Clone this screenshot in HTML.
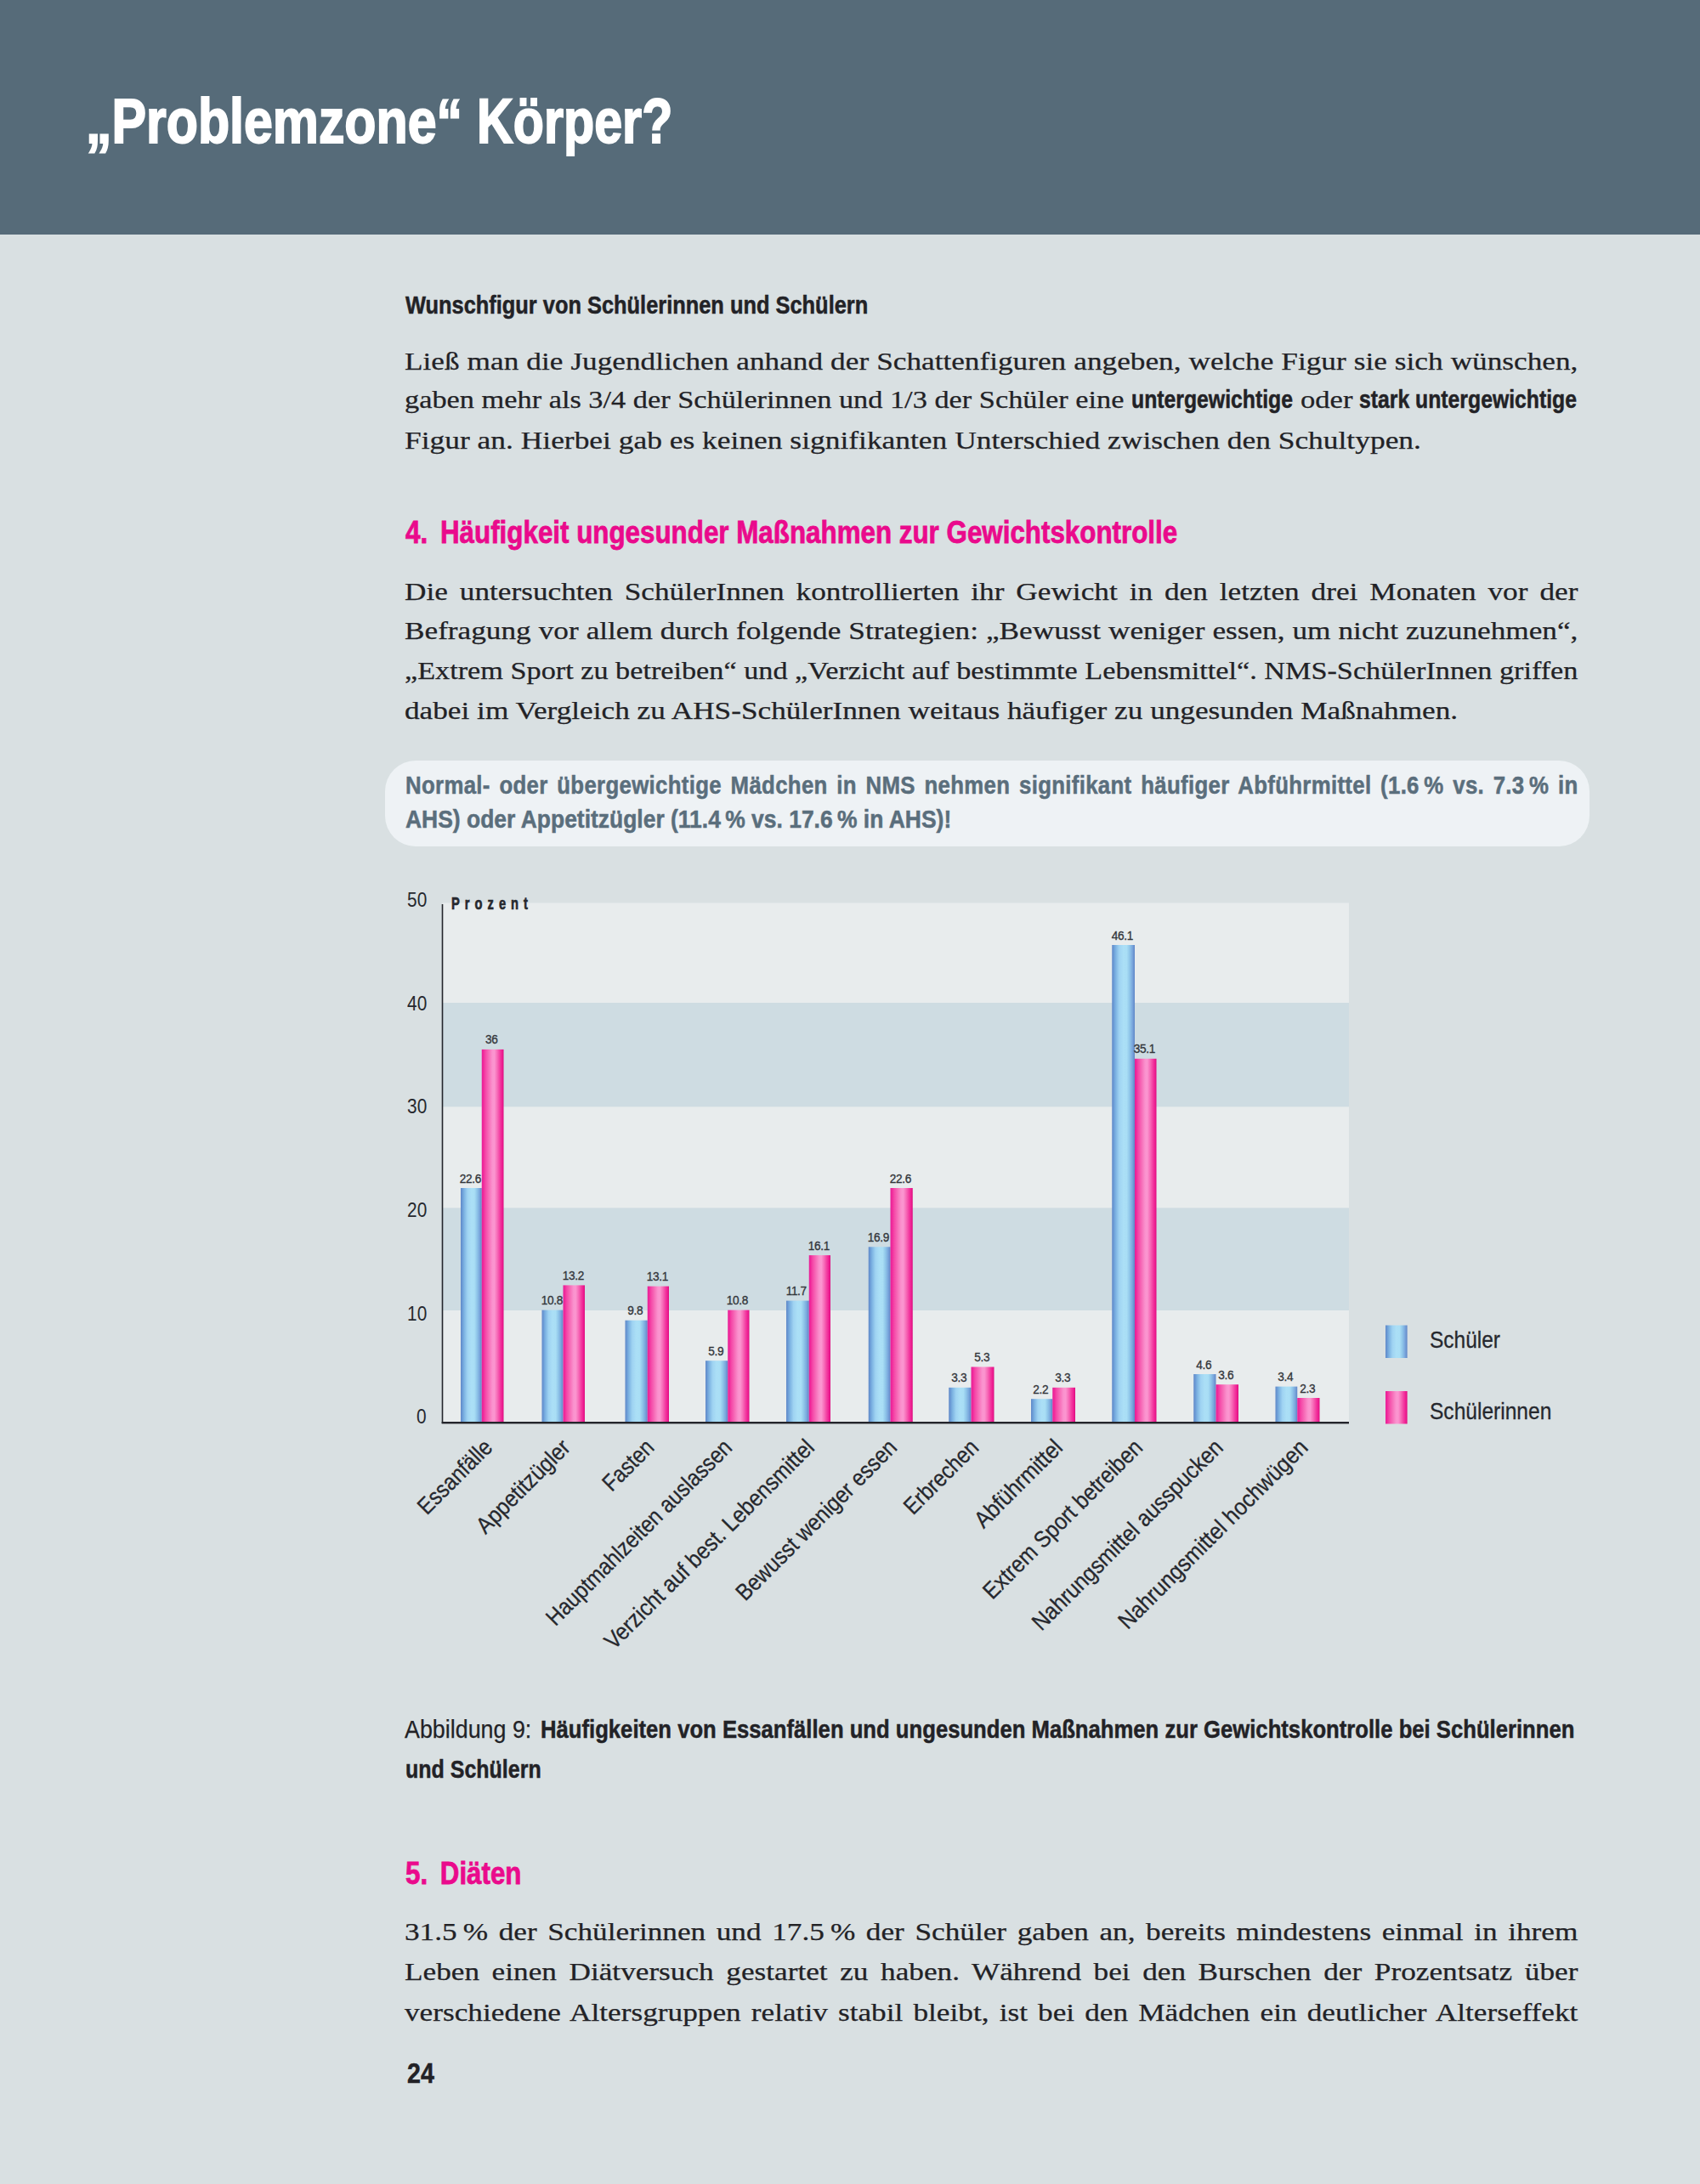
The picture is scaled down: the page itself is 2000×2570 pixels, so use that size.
<!DOCTYPE html>
<html lang="de"><head><meta charset="utf-8"><title>Problemzone Körper?</title>
<style>
html,body{margin:0;padding:0;}
body{width:2000px;height:2570px;background:#d9e0e2;position:relative;overflow:hidden;font-family:"Liberation Sans",sans-serif;}
.t{position:absolute;white-space:nowrap;margin:0;padding:0;}
.hdr{position:absolute;left:0;top:0;width:2000px;height:275.5px;background:#566b79;}
.callout{position:absolute;left:452.5px;top:895px;width:1417.5px;height:101px;border-radius:36px;background:#eef2f5;}
</style></head><body>
<div class="hdr"></div>
<div class="callout"></div>
<svg width="2000" height="2570" viewBox="0 0 2000 2570" style="position:absolute;left:0;top:0">
<defs>
<linearGradient id="gb" x1="0" x2="1" y1="0" y2="0"><stop offset="0" stop-color="#5f88c8"/><stop offset="0.08" stop-color="#6c9cd6"/><stop offset="0.16" stop-color="#7cb2e2"/><stop offset="0.32" stop-color="#9fd3f2"/><stop offset="0.5" stop-color="#abdff6"/><stop offset="0.65" stop-color="#a9def5"/><stop offset="0.78" stop-color="#8fc5e9"/><stop offset="0.9" stop-color="#79a5dc"/><stop offset="1" stop-color="#5f86c6"/></linearGradient>
<linearGradient id="gp" x1="0" x2="1" y1="0" y2="0"><stop offset="0" stop-color="#e6209a"/><stop offset="0.07" stop-color="#f0289a"/><stop offset="0.17" stop-color="#f548a8"/><stop offset="0.34" stop-color="#f772bb"/><stop offset="0.48" stop-color="#fa92ce"/><stop offset="0.58" stop-color="#fb96d0"/><stop offset="0.71" stop-color="#f76cb8"/><stop offset="0.83" stop-color="#f33ea2"/><stop offset="0.94" stop-color="#ee1a90"/><stop offset="1" stop-color="#d8107e"/></linearGradient>
</defs>
<rect x="521" y="1062.5" width="1066" height="117.5" fill="#e8eced"/>
<rect x="521" y="1180" width="1066" height="122.5" fill="#cedce2"/>
<rect x="521" y="1302.5" width="1066" height="119.0" fill="#e8eced"/>
<rect x="521" y="1421.5" width="1066" height="120.5" fill="#cedce2"/>
<rect x="521" y="1542" width="1066" height="131" fill="#e8eced"/>
<rect x="542.00" y="1398.0" width="24.75" height="275.0" fill="url(#gb)"/>
<rect x="566.75" y="1234.9" width="25.75" height="438.1" fill="url(#gp)"/>
<rect x="637.50" y="1541.6" width="25.00" height="131.4" fill="url(#gb)"/>
<rect x="662.50" y="1512.4" width="25.50" height="160.6" fill="url(#gp)"/>
<rect x="735.50" y="1553.7" width="26.25" height="119.3" fill="url(#gb)"/>
<rect x="761.75" y="1513.6" width="25.25" height="159.4" fill="url(#gp)"/>
<rect x="830.00" y="1601.2" width="26.25" height="71.8" fill="url(#gb)"/>
<rect x="856.25" y="1541.6" width="25.25" height="131.4" fill="url(#gp)"/>
<rect x="925.00" y="1530.6" width="26.75" height="142.4" fill="url(#gb)"/>
<rect x="951.75" y="1477.1" width="25.25" height="195.9" fill="url(#gp)"/>
<rect x="1021.75" y="1467.3" width="25.75" height="205.7" fill="url(#gb)"/>
<rect x="1047.50" y="1398.0" width="26.25" height="275.0" fill="url(#gp)"/>
<rect x="1116.25" y="1632.8" width="26.25" height="40.2" fill="url(#gb)"/>
<rect x="1142.50" y="1608.5" width="27.00" height="64.5" fill="url(#gp)"/>
<rect x="1213.00" y="1646.2" width="25.25" height="26.8" fill="url(#gb)"/>
<rect x="1238.25" y="1632.8" width="26.75" height="40.2" fill="url(#gp)"/>
<rect x="1308.25" y="1112.0" width="26.75" height="561.0" fill="url(#gb)"/>
<rect x="1335.00" y="1245.8" width="25.50" height="427.2" fill="url(#gp)"/>
<rect x="1404.25" y="1617.0" width="26.25" height="56.0" fill="url(#gb)"/>
<rect x="1430.50" y="1629.2" width="26.50" height="43.8" fill="url(#gp)"/>
<rect x="1500.50" y="1631.6" width="25.75" height="41.4" fill="url(#gb)"/>
<rect x="1526.25" y="1645.0" width="26.25" height="28.0" fill="url(#gp)"/>
<rect x="519.7" y="1064" width="1.6" height="611" fill="#23252b"/>
<rect x="519.7" y="1673" width="1067.3" height="2.4" fill="#23252b"/>
<rect x="1630" y="1559.5" width="25.6" height="38.5" fill="url(#gb)"/>
<rect x="1630" y="1637" width="25.6" height="38.5" fill="url(#gp)"/>
</svg>
<div class="t" style="left:101.00px;top:101.00px;line-height:83px;font-family:'Liberation Sans', sans-serif;font-weight:bold;font-size:74px;letter-spacing:0px;color:#ffffff;-webkit-text-stroke:2px #ffffff;transform-origin:0 67px;transform:scale(0.8224,1);">„Problemzone“</div>
<div class="t" style="left:560.70px;top:101.00px;line-height:83px;font-family:'Liberation Sans', sans-serif;font-weight:bold;font-size:74px;letter-spacing:0px;color:#ffffff;-webkit-text-stroke:2px #ffffff;transform-origin:0 67px;transform:scale(0.8002,1);">Körper?</div>
<div class="t" style="left:476.80px;top:342.75px;line-height:32px;font-family:'Liberation Sans', sans-serif;font-weight:bold;font-size:29px;letter-spacing:0px;color:#222226;-webkit-text-stroke:0.5px #222226;transform-origin:0 26px;transform:scale(0.8758,1);">Wunschfigur von Schülerinnen und Schülern</div>
<div class="t" style="left:475.60px;top:408.60px;line-height:32px;font-family:'Liberation Serif', serif;font-weight:normal;font-size:29px;letter-spacing:0px;color:#222226;-webkit-text-stroke:0.25px #222226;word-spacing:0.188px;transform-origin:0 26px;transform:scale(1.2150,1);">Ließ man die Jugendlichen anhand der Schattenfiguren angeben, welche Figur sie sich wünschen,</div>
<div class="t" style="left:475.60px;top:454.20px;line-height:32px;font-family:'Liberation Serif', serif;font-weight:normal;font-size:29px;letter-spacing:0px;color:#222226;-webkit-text-stroke:0.25px #222226;transform-origin:0 26px;transform:scale(1.1836,1);">gaben mehr als 3/4 der Schülerinnen und 1/3 der Schüler eine</div>
<div class="t" style="left:1331.00px;top:454.30px;line-height:32px;font-family:'Liberation Sans', sans-serif;font-weight:bold;font-size:29px;letter-spacing:0px;color:#222226;-webkit-text-stroke:0.5px #222226;transform-origin:0 26px;transform:scale(0.8545,1);">untergewichtige</div>
<div class="t" style="left:1530.00px;top:454.20px;line-height:32px;font-family:'Liberation Serif', serif;font-weight:normal;font-size:29px;letter-spacing:0px;color:#222226;-webkit-text-stroke:0.25px #222226;transform-origin:0 26px;transform:scale(1.1935,1);">oder</div>
<div class="t" style="left:1599.00px;top:454.30px;line-height:32px;font-family:'Liberation Sans', sans-serif;font-weight:bold;font-size:29px;letter-spacing:0px;color:#222226;-webkit-text-stroke:0.5px #222226;transform-origin:0 26px;transform:scale(0.8540,1);">stark untergewichtige</div>
<div class="t" style="left:475.60px;top:501.90px;line-height:32px;font-family:'Liberation Serif', serif;font-weight:normal;font-size:29px;letter-spacing:0px;color:#222226;-webkit-text-stroke:0.25px #222226;transform-origin:0 26px;transform:scale(1.2212,1);">Figur an. Hierbei gab es keinen signifikanten Unterschied zwischen den Schultypen.</div>
<div class="t" style="left:476.80px;top:606.40px;line-height:41px;font-family:'Liberation Sans', sans-serif;font-weight:bold;font-size:36px;letter-spacing:0px;color:#ea0a8c;-webkit-text-stroke:0.8px #ea0a8c;transform-origin:0 33px;transform:scale(0.8706,1);">4.<i style="margin-left:7px"></i> Häufigkeit ungesunder Maßnahmen zur Gewichtskontrolle</div>
<div class="t" style="left:475.60px;top:679.60px;line-height:32px;font-family:'Liberation Serif', serif;font-weight:normal;font-size:29px;letter-spacing:0px;color:#222226;-webkit-text-stroke:0.25px #222226;word-spacing:4.215px;transform-origin:0 26px;transform:scale(1.2150,1);">Die untersuchten SchülerInnen kontrollierten ihr Gewicht in den letzten drei Monaten vor der</div>
<div class="t" style="left:475.60px;top:726.10px;line-height:32px;font-family:'Liberation Serif', serif;font-weight:normal;font-size:29px;letter-spacing:0px;color:#222226;-webkit-text-stroke:0.25px #222226;word-spacing:0.133px;transform-origin:0 26px;transform:scale(1.2150,1);">Befragung vor allem durch folgende Strategien: „Bewusst weniger essen, um nicht zuzunehmen“,</div>
<div class="t" style="left:475.60px;top:772.60px;line-height:32px;font-family:'Liberation Serif', serif;font-weight:normal;font-size:29px;letter-spacing:0px;color:#222226;-webkit-text-stroke:0.25px #222226;transform-origin:0 26px;transform:scale(1.1803,1);">„Extrem Sport zu betreiben“ und „Verzicht auf bestimmte Lebensmittel“. NMS-SchülerInnen griffen</div>
<div class="t" style="left:475.60px;top:819.60px;line-height:32px;font-family:'Liberation Serif', serif;font-weight:normal;font-size:29px;letter-spacing:0px;color:#222226;-webkit-text-stroke:0.25px #222226;transform-origin:0 26px;transform:scale(1.2147,1);">dabei im Vergleich zu AHS-SchülerInnen weitaus häufiger zu ungesunden Maßnahmen.</div>
<div class="t" style="left:476.80px;top:908.00px;line-height:32px;font-family:'Liberation Sans', sans-serif;font-weight:bold;font-size:29px;letter-spacing:0.35px;color:#5a6e7c;-webkit-text-stroke:0.5px #5a6e7c;word-spacing:3.596px;transform-origin:0 26px;transform:scale(0.8900,1);">Normal- oder übergewichtige Mädchen in NMS nehmen signifikant häufiger Abführmittel (1.6 % vs. 7.3 % in</div>
<div class="t" style="left:476.80px;top:947.75px;line-height:32px;font-family:'Liberation Sans', sans-serif;font-weight:bold;font-size:29px;letter-spacing:0px;color:#5a6e7c;-webkit-text-stroke:0.5px #5a6e7c;transform-origin:0 26px;transform:scale(0.9122,1);">AHS) oder Appetitzügler (11.4 % vs. 17.6 % in AHS)!</div>
<div class="t" style="left:476.20px;top:2018.00px;line-height:33px;font-family:'Liberation Sans', sans-serif;font-weight:normal;font-size:30px;letter-spacing:0px;color:#222226;-webkit-text-stroke:0.25px #222226;transform-origin:0 27px;transform:scale(0.8950,1);">Abbildung 9:</div>
<div class="t" style="left:635.60px;top:2018.00px;line-height:33px;font-family:'Liberation Sans', sans-serif;font-weight:bold;font-size:30px;letter-spacing:0px;color:#222226;-webkit-text-stroke:0.5px #222226;transform-origin:0 27px;transform:scale(0.8555,1);">Häufigkeiten von Essanfällen und ungesunden Maßnahmen zur Gewichtskontrolle bei Schülerinnen</div>
<div class="t" style="left:476.80px;top:2064.80px;line-height:33px;font-family:'Liberation Sans', sans-serif;font-weight:bold;font-size:30px;letter-spacing:0px;color:#222226;-webkit-text-stroke:0.5px #222226;transform-origin:0 27px;transform:scale(0.8331,1);">und Schülern</div>
<div class="t" style="left:476.80px;top:2184.40px;line-height:41px;font-family:'Liberation Sans', sans-serif;font-weight:bold;font-size:36px;letter-spacing:0px;color:#ea0a8c;-webkit-text-stroke:0.8px #ea0a8c;transform-origin:0 33px;transform:scale(0.8684,1);">5.<i style="margin-left:7px"></i> Diäten</div>
<div class="t" style="left:475.60px;top:2256.60px;line-height:32px;font-family:'Liberation Serif', serif;font-weight:normal;font-size:29px;letter-spacing:0px;color:#222226;-webkit-text-stroke:0.25px #222226;word-spacing:3.117px;transform-origin:0 26px;transform:scale(1.2150,1);">31.5 % der Schülerinnen und 17.5 % der Schüler gaben an, bereits mindestens einmal in ihrem</div>
<div class="t" style="left:475.60px;top:2304.40px;line-height:32px;font-family:'Liberation Serif', serif;font-weight:normal;font-size:29px;letter-spacing:0px;color:#222226;-webkit-text-stroke:0.25px #222226;word-spacing:4.738px;transform-origin:0 26px;transform:scale(1.2150,1);">Leben einen Diätversuch gestartet zu haben. Während bei den Burschen der Prozentsatz über</div>
<div class="t" style="left:475.60px;top:2351.60px;line-height:32px;font-family:'Liberation Serif', serif;font-weight:normal;font-size:29px;letter-spacing:0px;color:#222226;-webkit-text-stroke:0.25px #222226;word-spacing:2.745px;transform-origin:0 26px;transform:scale(1.2150,1);">verschiedene Altersgruppen relativ stabil bleibt, ist bei den Mädchen ein deutlicher Alterseffekt</div>
<div class="t" style="left:479.40px;top:2420.40px;line-height:38px;font-family:'Liberation Sans', sans-serif;font-weight:bold;font-size:34px;letter-spacing:0px;color:#222226;-webkit-text-stroke:0.5px #222226;transform-origin:0 31px;transform:scale(0.8406,1);">24</div>
<div class="t" style="left:474.73px;top:1045.00px;line-height:27px;font-family:'Liberation Sans', sans-serif;font-weight:normal;font-size:24.5px;letter-spacing:0px;color:#26282e;transform-origin:27.27px 22px;transform:scale(0.8500,1);">50</div>
<div class="t" style="left:474.73px;top:1166.70px;line-height:27px;font-family:'Liberation Sans', sans-serif;font-weight:normal;font-size:24.5px;letter-spacing:0px;color:#26282e;transform-origin:27.27px 22px;transform:scale(0.8500,1);">40</div>
<div class="t" style="left:474.73px;top:1288.30px;line-height:27px;font-family:'Liberation Sans', sans-serif;font-weight:normal;font-size:24.5px;letter-spacing:0px;color:#26282e;transform-origin:27.27px 22px;transform:scale(0.8500,1);">30</div>
<div class="t" style="left:474.73px;top:1410.00px;line-height:27px;font-family:'Liberation Sans', sans-serif;font-weight:normal;font-size:24.5px;letter-spacing:0px;color:#26282e;transform-origin:27.27px 22px;transform:scale(0.8500,1);">20</div>
<div class="t" style="left:474.73px;top:1531.60px;line-height:27px;font-family:'Liberation Sans', sans-serif;font-weight:normal;font-size:24.5px;letter-spacing:0px;color:#26282e;transform-origin:27.27px 22px;transform:scale(0.8500,1);">10</div>
<div class="t" style="left:488.36px;top:1653.30px;line-height:27px;font-family:'Liberation Sans', sans-serif;font-weight:normal;font-size:24.5px;letter-spacing:0px;color:#26282e;transform-origin:13.64px 22px;transform:scale(0.8500,1);">0</div>
<div class="t" style="left:530.60px;top:1050.60px;line-height:23px;font-family:'Liberation Sans', sans-serif;font-weight:bold;font-size:21px;letter-spacing:8.6px;color:#26282e;-webkit-text-stroke:0.7px #26282e;transform-origin:0 19px;transform:scale(0.6997,1);">Prozent</div>
<div class="t" style="left:538.91px;top:1377.50px;line-height:17px;font-family:'Liberation Sans', sans-serif;font-weight:normal;font-size:15.5px;letter-spacing:-0.4px;color:#32353a;-webkit-text-stroke:0.35px #32353a;transform-origin:14.49px 14px;transform:scale(0.8800,1);">22.6</div>
<div class="t" style="left:570.17px;top:1214.40px;line-height:17px;font-family:'Liberation Sans', sans-serif;font-weight:normal;font-size:15.5px;letter-spacing:-0.4px;color:#32353a;-webkit-text-stroke:0.35px #32353a;transform-origin:8.43px 14px;transform:scale(0.8800,1);">36</div>
<div class="t" style="left:634.51px;top:1521.10px;line-height:17px;font-family:'Liberation Sans', sans-serif;font-weight:normal;font-size:15.5px;letter-spacing:-0.4px;color:#32353a;-webkit-text-stroke:0.35px #32353a;transform-origin:14.49px 14px;transform:scale(0.8800,1);">10.8</div>
<div class="t" style="left:659.71px;top:1491.90px;line-height:17px;font-family:'Liberation Sans', sans-serif;font-weight:normal;font-size:15.5px;letter-spacing:-0.4px;color:#32353a;-webkit-text-stroke:0.35px #32353a;transform-origin:14.49px 14px;transform:scale(0.8800,1);">13.2</div>
<div class="t" style="left:737.22px;top:1533.20px;line-height:17px;font-family:'Liberation Sans', sans-serif;font-weight:normal;font-size:15.5px;letter-spacing:-0.4px;color:#32353a;-webkit-text-stroke:0.35px #32353a;transform-origin:10.38px 14px;transform:scale(0.8800,1);">9.8</div>
<div class="t" style="left:758.91px;top:1493.10px;line-height:17px;font-family:'Liberation Sans', sans-serif;font-weight:normal;font-size:15.5px;letter-spacing:-0.4px;color:#32353a;-webkit-text-stroke:0.35px #32353a;transform-origin:14.49px 14px;transform:scale(0.8800,1);">13.1</div>
<div class="t" style="left:831.72px;top:1580.70px;line-height:17px;font-family:'Liberation Sans', sans-serif;font-weight:normal;font-size:15.5px;letter-spacing:-0.4px;color:#32353a;-webkit-text-stroke:0.35px #32353a;transform-origin:10.38px 14px;transform:scale(0.8800,1);">5.9</div>
<div class="t" style="left:853.41px;top:1521.10px;line-height:17px;font-family:'Liberation Sans', sans-serif;font-weight:normal;font-size:15.5px;letter-spacing:-0.4px;color:#32353a;-webkit-text-stroke:0.35px #32353a;transform-origin:14.49px 14px;transform:scale(0.8800,1);">10.8</div>
<div class="t" style="left:923.49px;top:1510.10px;line-height:17px;font-family:'Liberation Sans', sans-serif;font-weight:normal;font-size:15.5px;letter-spacing:-0.4px;color:#32353a;-webkit-text-stroke:0.35px #32353a;transform-origin:13.91px 14px;transform:scale(0.8800,1);">11.7</div>
<div class="t" style="left:948.91px;top:1456.60px;line-height:17px;font-family:'Liberation Sans', sans-serif;font-weight:normal;font-size:15.5px;letter-spacing:-0.4px;color:#32353a;-webkit-text-stroke:0.35px #32353a;transform-origin:14.49px 14px;transform:scale(0.8800,1);">16.1</div>
<div class="t" style="left:1019.11px;top:1446.80px;line-height:17px;font-family:'Liberation Sans', sans-serif;font-weight:normal;font-size:15.5px;letter-spacing:-0.4px;color:#32353a;-webkit-text-stroke:0.35px #32353a;transform-origin:14.49px 14px;transform:scale(0.8800,1);">16.9</div>
<div class="t" style="left:1045.11px;top:1377.50px;line-height:17px;font-family:'Liberation Sans', sans-serif;font-weight:normal;font-size:15.5px;letter-spacing:-0.4px;color:#32353a;-webkit-text-stroke:0.35px #32353a;transform-origin:14.49px 14px;transform:scale(0.8800,1);">22.6</div>
<div class="t" style="left:1118.02px;top:1612.30px;line-height:17px;font-family:'Liberation Sans', sans-serif;font-weight:normal;font-size:15.5px;letter-spacing:-0.4px;color:#32353a;-webkit-text-stroke:0.35px #32353a;transform-origin:10.38px 14px;transform:scale(0.8800,1);">3.3</div>
<div class="t" style="left:1144.62px;top:1588.00px;line-height:17px;font-family:'Liberation Sans', sans-serif;font-weight:normal;font-size:15.5px;letter-spacing:-0.4px;color:#32353a;-webkit-text-stroke:0.35px #32353a;transform-origin:10.38px 14px;transform:scale(0.8800,1);">5.3</div>
<div class="t" style="left:1214.22px;top:1625.70px;line-height:17px;font-family:'Liberation Sans', sans-serif;font-weight:normal;font-size:15.5px;letter-spacing:-0.4px;color:#32353a;-webkit-text-stroke:0.35px #32353a;transform-origin:10.38px 14px;transform:scale(0.8800,1);">2.2</div>
<div class="t" style="left:1240.22px;top:1612.30px;line-height:17px;font-family:'Liberation Sans', sans-serif;font-weight:normal;font-size:15.5px;letter-spacing:-0.4px;color:#32353a;-webkit-text-stroke:0.35px #32353a;transform-origin:10.38px 14px;transform:scale(0.8800,1);">3.3</div>
<div class="t" style="left:1306.11px;top:1091.50px;line-height:17px;font-family:'Liberation Sans', sans-serif;font-weight:normal;font-size:15.5px;letter-spacing:-0.4px;color:#32353a;-webkit-text-stroke:0.35px #32353a;transform-origin:14.49px 14px;transform:scale(0.8800,1);">46.1</div>
<div class="t" style="left:1332.31px;top:1225.30px;line-height:17px;font-family:'Liberation Sans', sans-serif;font-weight:normal;font-size:15.5px;letter-spacing:-0.4px;color:#32353a;-webkit-text-stroke:0.35px #32353a;transform-origin:14.49px 14px;transform:scale(0.8800,1);">35.1</div>
<div class="t" style="left:1406.02px;top:1596.50px;line-height:17px;font-family:'Liberation Sans', sans-serif;font-weight:normal;font-size:15.5px;letter-spacing:-0.4px;color:#32353a;-webkit-text-stroke:0.35px #32353a;transform-origin:10.38px 14px;transform:scale(0.8800,1);">4.6</div>
<div class="t" style="left:1432.42px;top:1608.70px;line-height:17px;font-family:'Liberation Sans', sans-serif;font-weight:normal;font-size:15.5px;letter-spacing:-0.4px;color:#32353a;-webkit-text-stroke:0.35px #32353a;transform-origin:10.38px 14px;transform:scale(0.8800,1);">3.6</div>
<div class="t" style="left:1502.02px;top:1611.10px;line-height:17px;font-family:'Liberation Sans', sans-serif;font-weight:normal;font-size:15.5px;letter-spacing:-0.4px;color:#32353a;-webkit-text-stroke:0.35px #32353a;transform-origin:10.38px 14px;transform:scale(0.8800,1);">3.4</div>
<div class="t" style="left:1528.02px;top:1624.50px;line-height:17px;font-family:'Liberation Sans', sans-serif;font-weight:normal;font-size:15.5px;letter-spacing:-0.4px;color:#32353a;-webkit-text-stroke:0.35px #32353a;transform-origin:10.38px 14px;transform:scale(0.8800,1);">2.3</div>
<div class="t" style="left:454.11px;top:1679.50px;line-height:31px;font-family:'Liberation Sans', sans-serif;font-weight:normal;font-size:27.5px;letter-spacing:0px;color:#26282e;-webkit-text-stroke:0.3px #26282e;transform-origin:126.89px 25px;transform:rotate(-45deg) scale(0.8767,1);">Essanfälle</div>
<div class="t" style="left:512.48px;top:1679.50px;line-height:31px;font-family:'Liberation Sans', sans-serif;font-weight:normal;font-size:27.5px;letter-spacing:0px;color:#26282e;-webkit-text-stroke:0.3px #26282e;transform-origin:160.52px 25px;transform:rotate(-45deg) scale(0.8914,1);">Appetitzügler</div>
<div class="t" style="left:686.92px;top:1679.50px;line-height:31px;font-family:'Liberation Sans', sans-serif;font-weight:normal;font-size:27.5px;letter-spacing:0px;color:#26282e;-webkit-text-stroke:0.3px #26282e;transform-origin:84.08px 25px;transform:rotate(-45deg) scale(0.8619,1);">Fasten</div>
<div class="t" style="left:525.16px;top:1679.50px;line-height:31px;font-family:'Liberation Sans', sans-serif;font-weight:normal;font-size:27.5px;letter-spacing:0px;color:#26282e;-webkit-text-stroke:0.3px #26282e;transform-origin:337.84px 25px;transform:rotate(-45deg) scale(0.8767,1);">Hauptmahlzeiten auslassen</div>
<div class="t" style="left:585.48px;top:1679.50px;line-height:31px;font-family:'Liberation Sans', sans-serif;font-weight:normal;font-size:27.5px;letter-spacing:0px;color:#26282e;-webkit-text-stroke:0.3px #26282e;transform-origin:374.52px 25px;transform:rotate(-45deg) scale(0.8963,1);">Verzicht auf best. Lebensmittel</div>
<div class="t" style="left:768.09px;top:1679.50px;line-height:31px;font-family:'Liberation Sans', sans-serif;font-weight:normal;font-size:27.5px;letter-spacing:0px;color:#26282e;-webkit-text-stroke:0.3px #26282e;transform-origin:288.91px 25px;transform:rotate(-45deg) scale(0.8816,1);">Bewusst weniger essen</div>
<div class="t" style="left:1026.11px;top:1679.50px;line-height:31px;font-family:'Liberation Sans', sans-serif;font-weight:normal;font-size:27.5px;letter-spacing:0px;color:#26282e;-webkit-text-stroke:0.3px #26282e;transform-origin:126.89px 25px;transform:rotate(-45deg) scale(0.8767,1);">Erbrechen</div>
<div class="t" style="left:1105.27px;top:1679.50px;line-height:31px;font-family:'Liberation Sans', sans-serif;font-weight:normal;font-size:27.5px;letter-spacing:0px;color:#26282e;-webkit-text-stroke:0.3px #26282e;transform-origin:146.73px 25px;transform:rotate(-45deg) scale(0.9111,1);">Abführmittel</div>
<div class="t" style="left:1062.72px;top:1679.50px;line-height:31px;font-family:'Liberation Sans', sans-serif;font-weight:normal;font-size:27.5px;letter-spacing:0px;color:#26282e;-webkit-text-stroke:0.3px #26282e;transform-origin:282.78px 25px;transform:rotate(-45deg) scale(0.8914,1);">Extrem Sport betreiben</div>
<div class="t" style="left:1101.14px;top:1679.50px;line-height:31px;font-family:'Liberation Sans', sans-serif;font-weight:normal;font-size:27.5px;letter-spacing:0px;color:#26282e;-webkit-text-stroke:0.3px #26282e;transform-origin:339.36px 25px;transform:rotate(-45deg) scale(0.8963,1);">Nahrungsmittel ausspucken</div>
<div class="t" style="left:1206.75px;top:1679.50px;line-height:31px;font-family:'Liberation Sans', sans-serif;font-weight:normal;font-size:27.5px;letter-spacing:0px;color:#26282e;-webkit-text-stroke:0.3px #26282e;transform-origin:333.25px 25px;transform:rotate(-45deg) scale(0.9062,1);">Nahrungsmittel hochwügen</div>
<div class="t" style="left:1682.40px;top:1559.60px;line-height:32px;font-family:'Liberation Sans', sans-serif;font-weight:normal;font-size:28.5px;letter-spacing:0px;color:#26282e;-webkit-text-stroke:0.3px #26282e;transform-origin:0 26px;transform:scale(0.8589,1);">Schüler</div>
<div class="t" style="left:1682.40px;top:1644.00px;line-height:32px;font-family:'Liberation Sans', sans-serif;font-weight:normal;font-size:28.5px;letter-spacing:0px;color:#26282e;-webkit-text-stroke:0.3px #26282e;transform-origin:0 26px;transform:scale(0.8613,1);">Schülerinnen</div>
</body></html>
